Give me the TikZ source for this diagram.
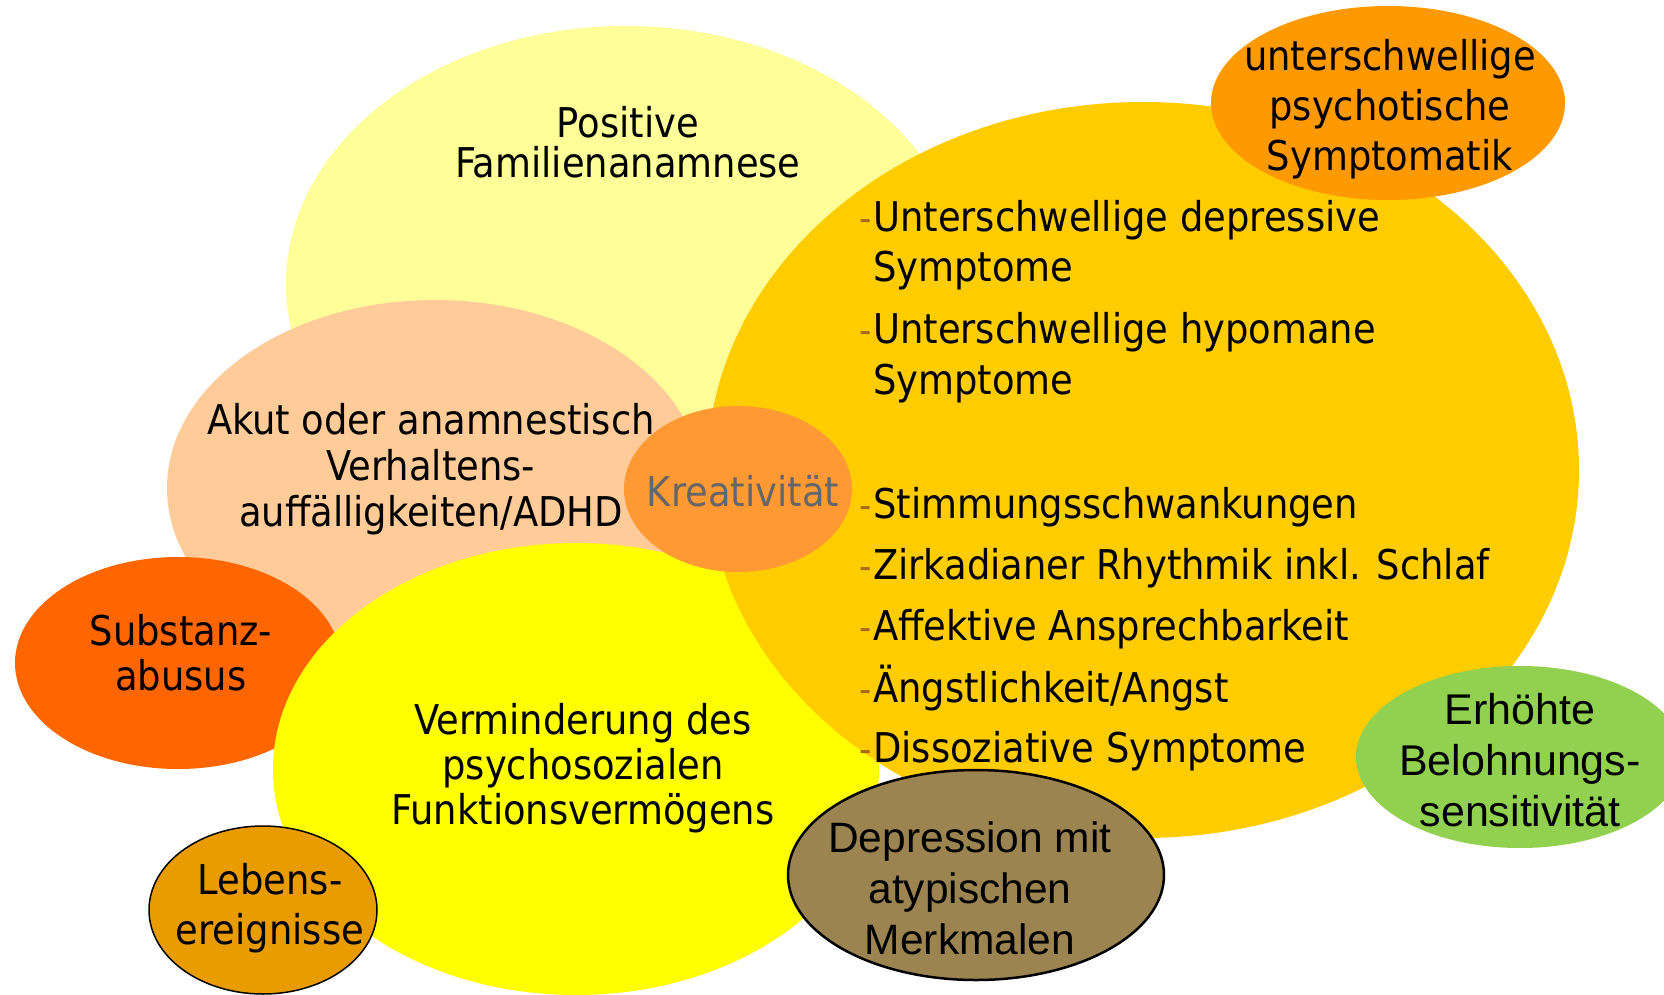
\documentclass[tikz,border=0pt]{standalone}
\usepackage{fontspec}
\setmainfont{DejaVu Sans Condensed}
\newfontfamily\arialfont{Liberation Sans}
\usetikzlibrary{shapes.geometric}
\definecolor{paleyel}{HTML}{FFFF99}
\definecolor{gold}{HTML}{FFCC00}
\definecolor{peach}{HTML}{FFCC99}
\definecolor{kreaorange}{HTML}{FF9933}
\definecolor{brightyel}{HTML}{FFFF00}
\definecolor{substorange}{HTML}{FF6600}
\definecolor{lebensorange}{HTML}{E99C00}
\definecolor{depbrown}{HTML}{9C8450}
\definecolor{psyorange}{HTML}{FF9900}
\definecolor{rewardgreen}{HTML}{92D050}
\definecolor{dashbrown}{HTML}{A86A1E}
\definecolor{kreagray}{HTML}{666666}

\begin{document}
\begin{tikzpicture}[x=1pt,y=-1pt,
	blob/.style={ellipse,inner sep=0,outer sep=0},
	lbl/.style={align=center,inner sep=0,font=\fontsize{41}{46}\selectfont},
	item/.style={anchor=mid west,inner sep=0,font=\fontsize{41}{50}\selectfont},
	bullet/.style={anchor=mid east,inner sep=0,text=dashbrown,font=\fontsize{38}{50}\selectfont}]
	\useasboundingbox[fill=white] (0,0) rectangle (1664,995);
	% ellipses, back to front
	\node[blob,fill=paleyel,minimum width=680,minimum height=516] (famil) at (626,284) {};
	\node[blob,fill=peach,minimum width=536,minimum height=376] (adhd) at (435,488) {};
	\node[blob,fill=substorange,minimum width=326,minimum height=212] (subst) at (178,663) {};
	\node[blob,fill=brightyel,minimum width=606,minimum height=452] (funkt) at (576,769) {};
	\node[blob,fill=gold,minimum width=872,minimum height=736] (sympt) at (1143,470) {};
	\node[blob,fill=kreaorange,minimum width=228,minimum height=166] (krea) at (738,489) {};
	\node[blob,fill=psyorange,minimum width=354,minimum height=194] (psycho) at (1388,103) {};
	\node[blob,fill=rewardgreen,minimum width=328,minimum height=182] (reward) at (1520,757) {};
	\node[blob,draw=black,line width=1.5,fill=lebensorange,minimum width=228,minimum height=168] (lebens) at (263,910) {};
	\node[blob,draw=black,line width=2.5,fill=depbrown,minimum width=376,minimum height=210] (depr) at (976,875) {};

	% labels
	\node[lbl,font=\fontsize{41}{40}\selectfont] (familtxt) at (628,142) {Positive\\Familienanamnese};
	\node[lbl] (adhdtxt) at (431,469) {Akut oder anamnestisch\\Verhaltens-\\auff\"alligkeiten/ADHD};
	\node[lbl,text=kreagray] (kreatxt) at (743,491) {Kreativit\"at};
	\node[lbl,font=\fontsize{41}{45}\selectfont] (substtxt) at (181,653) {Substanz-\\abusus};
	\node[lbl,font=\fontsize{41}{45}\selectfont] (funkttxt) at (583,768) {Verminderung des\\psychosozialen\\Funktionsverm\"ogens};
	\node[lbl,font=\fontsize{41}{50}\selectfont] (lebenstxt) at (270,908) {Lebens-\\ereignisse};
	\node[lbl,font=\fontsize{41}{50}\selectfont] (psychotxt) at (1390,109) {unterschwellige\\psychotische\\Symptomatik};
	\node[lbl,font=\arialfont\fontsize{42.5}{51}\selectfont] (deprtxt) at (970,888) {Depression mit\\atypischen\\Merkmalen};
	\node[lbl,font=\arialfont\fontsize{43}{51}\selectfont] (rewardtxt) at (1520,760) {Erh\"ohte\\Belohnungs-\\sensitivit\"at};

	% symptom list
	\foreach \y/\t [count=\i] in {229/Unterschwellige depressive, 279/Symptome,
		341/Unterschwellige hypomane, 392/Symptome, 516/Stimmungsschwankungen,
		577/Zirkadianer Rhythmik inkl. Schlaf, 638/Affektive Ansprechbarkeit,
		700/{\"Angstlichkeit/Angst}, 760/Dissoziative Symptome}
		\node[item] (line\i) at (873,\y) {\t};
	\foreach \y [count=\i] in {229,341,516,577,638,700,760}
		\node[bullet] (dash\i) at (872,\y) {-};
\end{tikzpicture}
\end{document}
